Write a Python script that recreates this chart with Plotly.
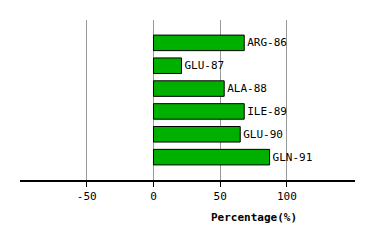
import plotly.graph_objects as go

residues = ["ARG-86", "GLU-87", "ALA-88", "ILE-89", "GLU-90", "GLN-91"]
percentages = [68, 21, 53, 68, 65, 87]
tick_values = [-50, 0, 50, 100]
tick_labels = ["-50", "0", "50", "100"]

positions = list(range(len(residues)))

fig = go.Figure(
    go.Bar(
        x=percentages,
        y=positions,
        orientation="h",
        width=0.68,
        marker=dict(color="#00B000", line=dict(color="black", width=1)),
        text=residues,
        textposition="outside",
        textfont=dict(family="DejaVu Sans Mono", size=11, color="black"),
        cliponaxis=False,
    )
)

fig.update_layout(
    width=374,
    height=240,
    margin=dict(l=20, r=19, t=20, b=60),
    paper_bgcolor="white",
    plot_bgcolor="white",
    showlegend=False,
    font=dict(family="DejaVu Sans Mono", size=11, color="black"),
    xaxis=dict(
        range=[-100, 151],
        tickvals=tick_values,
        ticktext=tick_labels,
        showgrid=True,
        gridcolor="#999999",
        gridwidth=1,
        zeroline=False,
        showline=True,
        linecolor="black",
        linewidth=1.5,
        ticks="outside",
        ticklen=5,
        tickcolor="black",
        tickwidth=1,
        tickfont=dict(family="DejaVu Sans Mono", size=11),
    ),
    yaxis=dict(
        range=[6.0, -1.0],
        showticklabels=False,
        showgrid=False,
        zeroline=False,
        showline=False,
        ticks="",
    ),
    annotations=[
        dict(text="<b>Percentage(%)</b>", x=75, xref="x", y=-0.18, yref="paper",
             showarrow=False, yanchor="top",
             font=dict(family="DejaVu Sans Mono", size=11, color="black")),
    ],
)

fig.write_html("out.html")
